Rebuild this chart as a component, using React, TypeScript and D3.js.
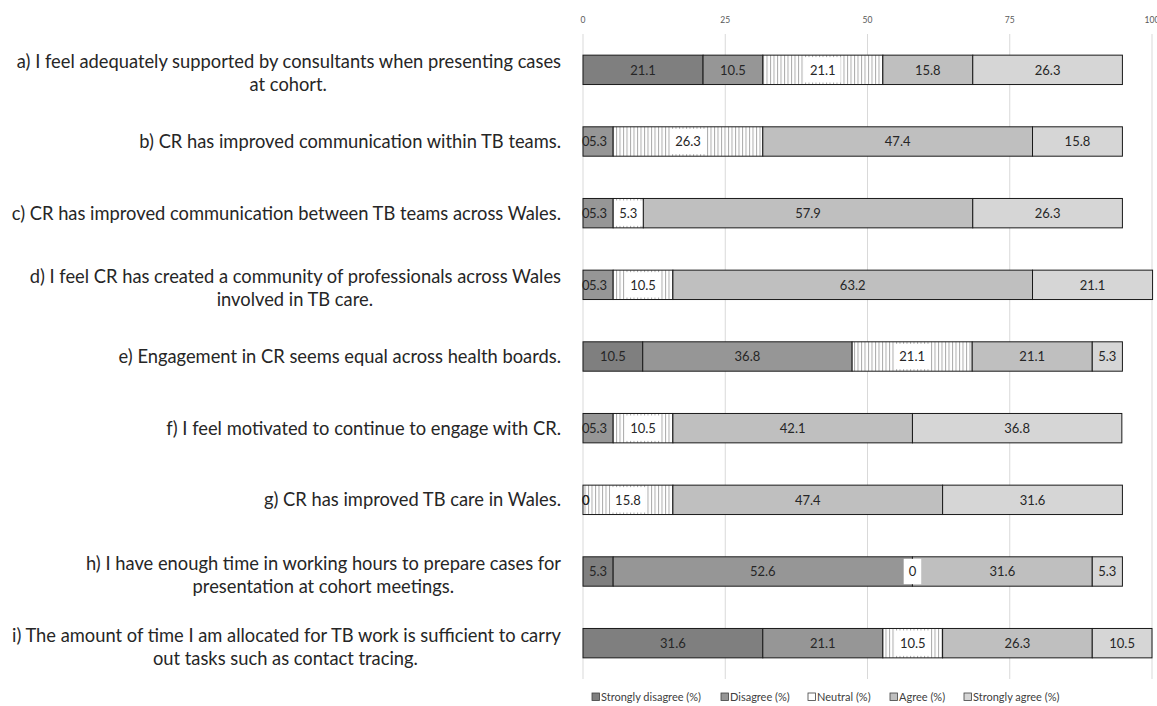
import React from 'react';
import * as d3 from 'd3';

const categories: string[][] = [
  ["a) I feel adequately supported by consultants when presenting cases", "at cohort."],
  ["b) CR has improved communication within TB teams."],
  ["c) CR has improved communication between TB teams across Wales."],
  ["d) I feel CR has created a community of professionals across Wales", "involved in TB care."],
  ["e) Engagement in CR seems equal across health boards."],
  ["f) I feel motivated to continue to engage with CR."],
  ["g) CR has improved TB care in Wales."],
  ["h) I have enough time in working hours to prepare cases for", "presentation at cohort meetings."],
  ["i) The amount of time I am allocated for TB work is sufficient to carry", "out tasks such as contact tracing."],
];
const stronglyDisagree = [21.1, 0, 0, 0, 10.5, 0, 0, 5.3, 31.6];
const disagree = [10.5, 5.3, 5.3, 5.3, 36.8, 5.3, 0, 52.6, 21.1];
const neutral = [21.1, 26.3, 5.3, 10.5, 21.1, 10.5, 15.8, 0, 10.5];
const agree = [15.8, 47.4, 57.9, 63.2, 21.1, 42.1, 47.4, 31.6, 26.3];
const stronglyAgree = [26.3, 15.8, 26.3, 21.1, 5.3, 36.8, 31.6, 5.3, 10.5];
const seriesNames = ["Strongly disagree (%)", "Disagree (%)", "Neutral (%)", "Agree (%)", "Strongly agree (%)"];
const xTicks = [0, 25, 50, 75, 100];

const FONT = "Lato, 'Open Sans', sans-serif";
const fills = ["#7f7f7f", "#969696", "url(#hatch)", "#bfbfbf", "#d6d6d6"];
const legendFills = ["#7f7f7f", "#969696", "#ffffff", "#bfbfbf", "#d6d6d6"];

let ctx: CanvasRenderingContext2D | null = null;
function measure(text: string, size: number): number {
  if (!ctx) ctx = document.createElement('canvas').getContext('2d');
  if (!ctx) return text.length * size * 0.5;
  ctx.font = `${size}px Lato`;
  return ctx.measureText(text).width;
}

export default function App() {
  const series = [stronglyDisagree, disagree, neutral, agree, stronglyAgree];
  const x = d3.scaleLinear().domain([0, 100]).range([583, 1152]);
  const y = d3.scaleBand<number>().domain(d3.range(categories.length)).range([34, 679]).paddingInner(0.59).paddingOuter(0.295);
  const bh = y.bandwidth();

  const labelSize = 100 * 546 / measure(categories[0][0], 100);
  const rightEdge = 561;
  const valSize = 13;

  return (
    <svg width={1157} height={706} style={{ position: 'absolute', left: 0, top: 0, fontFamily: FONT }}>
      <defs>
        <pattern id="hatch" width={3.5} height={4} patternUnits="userSpaceOnUse">
          <rect width={3.5} height={4} fill="#fff" />
          <line x1={0.5} y1={0} x2={0.5} y2={4} stroke="#ababab" strokeWidth={1} />
        </pattern>
      </defs>
      <rect width={1157} height={706} fill="#fff" />
      {xTicks.map(t => (
        <g key={t}>
          <line x1={x(t)} x2={x(t)} y1={34} y2={679} stroke="#d9d9d9" strokeWidth={1} />
          <text x={x(t)} y={23} textAnchor="middle" fontSize={8.5} fill="#595959">{t}</text>
        </g>
      ))}
      {categories.map((lines, i) => {
        const cy = (y(i) as number) + bh / 2;
        if (lines.length === 1) {
          return <text key={i} x={rightEdge} y={cy} dy="0.35em" textAnchor="end" fontSize={labelSize} fill="#262626">{lines[0]}</text>;
        }
        const w1 = measure(lines[0], labelSize);
        const cx = rightEdge - w1 / 2;
        return (
          <g key={i}>
            <text x={rightEdge} y={cy - 8} dy="0.35em" textAnchor="end" fontSize={labelSize} fill="#262626">{lines[0]}</text>
            <text x={cx} y={cy + 15} dy="0.35em" textAnchor="middle" fontSize={labelSize} fill="#262626">{lines[1]}</text>
          </g>
        );
      })}
      {categories.map((_, i) => {
        const top = y(i) as number;
        let acc = 0;
        const segs = series.map((s, k) => {
          const x0 = acc;
          acc += s[i];
          return { k, x0, x1: acc, v: s[i] };
        });
        return (
          <g key={i}>
            {segs.map(sg => sg.v > 0 && (
              <rect key={sg.k} x={x(sg.x0)} y={top} width={x(sg.x1) - x(sg.x0)} height={bh}
                fill={fills[sg.k]} stroke="#1a1a1a" strokeWidth={1} />
            ))}
            {segs.map(sg => {
              const label = String(sg.v);
              const tw = measure(label, valSize);
              let cx = (x(sg.x0) + x(sg.x1)) / 2;
              cx = Math.max(cx, x(0) + tw / 2 - 1);
              return (
                <g key={'l' + sg.k}>
                  {sg.k === 2 && (
                    <rect x={cx - tw / 2 - 5} y={top + 2} width={tw + 10} height={bh - 4} fill="#fff" />
                  )}
                  <text x={cx} y={top + bh / 2} dy="0.36em" textAnchor="middle" fontSize={valSize} fill="#262626">{label}</text>
                </g>
              );
            })}
          </g>
        );
      })}
      {(() => {
        const lx = [592, 721, 808, 890, 964];
        return seriesNames.map((n, k) => (
          <g key={n}>
            <rect x={lx[k]} y={693} width={7.5} height={7.5} fill={legendFills[k]} stroke="#404040" strokeWidth={0.8} />
            <text x={lx[k] + 9} y={697} dy="0.35em" fontSize={11} fill="#404040">{n}</text>
          </g>
        ));
      })()}
    </svg>
  );
}
